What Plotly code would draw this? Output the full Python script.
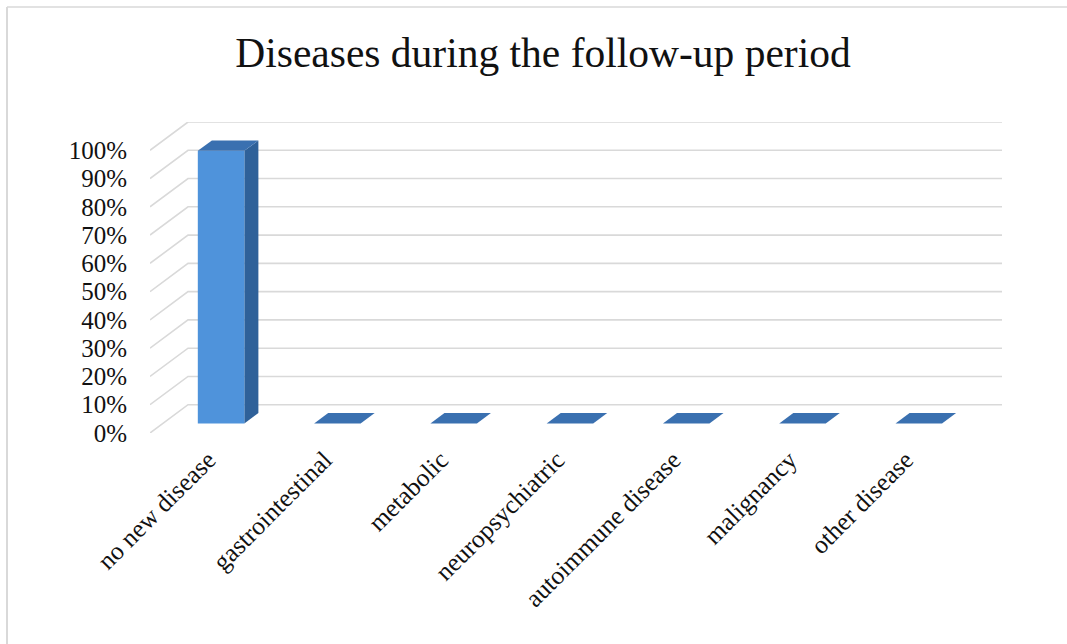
import plotly.graph_objects as go

# ---- data ----
categories = ["no new disease", "gastrointestinal", "metabolic", "neuropsychiatric",
              "autoimmune disease", "malignancy", "other disease"]
percent_values = [96.4, 0, 0, 0, 0, 0, 0]
tick_values = [0, 10, 20, 30, 40, 50, 60, 70, 80, 90, 100]
tick_labels = ["0%", "10%", "20%", "30%", "40%", "50%", "60%", "70%", "80%", "90%", "100%"]

# ---- oblique 3D projection settings (data units) ----
DEPTH_X = 0.327      # horizontal shift of the back wall, in category units
DEPTH_Y = 10.0       # vertical shift of the back wall, in percent units
BAR_FRONT, BAR_BACK = 0.34, 0.71   # bar depth position as fraction of full depth
BAR_WIDTH = 0.40

FRONT_COLOR = "#4F93DB"
TOP_COLOR = "#3A70B0"
SIDE_COLOR = "#2F6199"
GRID_COLOR = "#D9D9D9"
FONT = "Liberation Serif, Times New Roman, serif"

n = len(categories)
fig = go.Figure()

# gridlines: back wall horizontals plus slanted lines on the side wall
gx, gy = [], []
for t in tick_values:
    gx += [0, DEPTH_X, n + DEPTH_X, None]
    gy += [t, t + DEPTH_Y, t + DEPTH_Y, None]
fig.add_trace(go.Scatter(x=gx, y=gy, mode="lines", line=dict(color=GRID_COLOR, width=1.6),
                         hoverinfo="skip", showlegend=False, cliponaxis=False))


def poly(xs, ys, color, name):
    fig.add_trace(go.Scatter(x=xs + [xs[0]], y=ys + [ys[0]], mode="lines", fill="toself",
                             fillcolor=color, line=dict(width=0, color=color),
                             hoverinfo="skip", showlegend=False, name=name, cliponaxis=False))


dx = (BAR_BACK - BAR_FRONT) * DEPTH_X
dy = (BAR_BACK - BAR_FRONT) * DEPTH_Y
for i, (cat, v) in enumerate(zip(categories, percent_values)):
    x0 = i + 0.5 - BAR_WIDTH / 2 + BAR_FRONT * DEPTH_X
    x1 = x0 + BAR_WIDTH
    yb = BAR_FRONT * DEPTH_Y
    yt = yb + v
    if v > 0:
        poly([x1, x1 + dx, x1 + dx, x1], [yb, yb + dy, yt + dy, yt], SIDE_COLOR, cat)
        poly([x0, x1, x1, x0], [yb, yb, yt, yt], FRONT_COLOR, cat)
    poly([x0, x1, x1 + dx, x0 + dx], [yt, yt, yt + dy, yt + dy], TOP_COLOR, cat)

W, H = 1067, 644
ML, MR, MT, MB = 150, 65, 122, 211
pw = W - ML - MR
ph = H - MT - MB


def px_to_paper_x(px):
    return (px - ML) / pw


def px_to_paper_y(py):
    return (H - MB - py) / ph


fig.update_layout(
    width=W, height=H,
    margin=dict(l=ML, r=MR, t=MT, b=MB),
    paper_bgcolor="white", plot_bgcolor="white",
    showlegend=False,
    font=dict(family=FONT, color="#111111"),
    title=dict(text="Diseases during the follow-up period", x=543 / W, xanchor="center",
               xref="container", y=1 - 52 / H, yref="container", yanchor="middle",
               font=dict(family=FONT, size=41.5, color="#111111")),
    xaxis=dict(range=[0, n + DEPTH_X], tickvals=[i + 0.5 for i in range(n)], ticktext=categories,
               tickangle=-45, showgrid=False, zeroline=False, showline=False, ticks="",
               tickfont=dict(family=FONT, size=25.5, color="#111111"), ticklabelstandoff=6,
               fixedrange=True),
    yaxis=dict(range=[0, 100 + DEPTH_Y], tickvals=tick_values, ticktext=tick_labels,
               showgrid=False, zeroline=False, showline=False, ticks="",
               tickfont=dict(family=FONT, size=25, color="#111111"), ticklabelstandoff=22,
               fixedrange=True),
    shapes=[
        dict(type="line", xref="paper", yref="paper", x0=px_to_paper_x(7), x1=px_to_paper_x(W),
             y0=px_to_paper_y(7), y1=px_to_paper_y(7), line=dict(color=GRID_COLOR, width=1.5)),
        dict(type="line", xref="paper", yref="paper", x0=px_to_paper_x(7), x1=px_to_paper_x(7),
             y0=px_to_paper_y(7), y1=px_to_paper_y(H), line=dict(color=GRID_COLOR, width=2)),
    ],
)

fig.write_html("out.html")
